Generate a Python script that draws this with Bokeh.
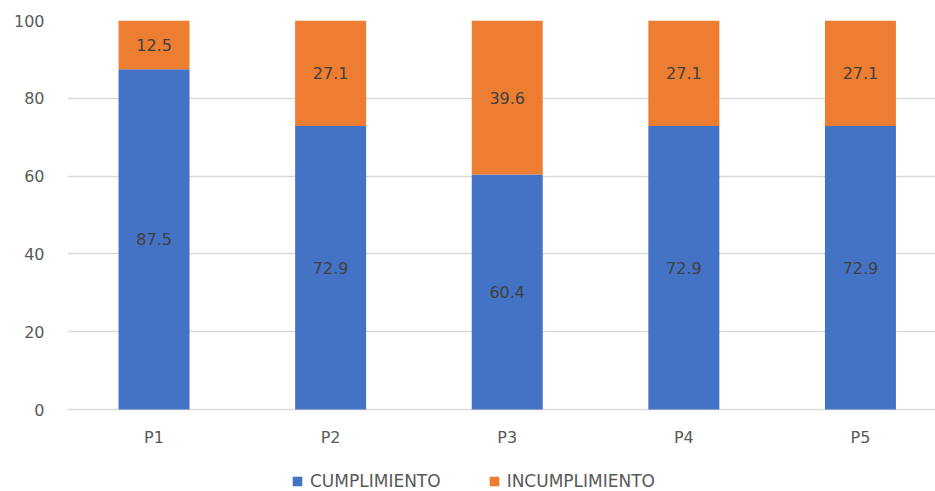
from bokeh.plotting import figure
from bokeh.models import (ColumnDataSource, Legend, LegendItem, FixedTicker,
                          Range1d, LabelSet)
from bokeh.core.properties import value
from bokeh.embed import file_html
from bokeh.resources import INLINE

# Compliance per item (percent)
categories = ["P1", "P2", "P3", "P4", "P5"]
cumplimiento = [87.5, 72.9, 60.4, 72.9, 72.9]
incumplimiento = [12.5, 27.1, 39.6, 27.1, 27.1]
y_ticks = [0, 20, 40, 60, 80, 100]

BLUE = "#4472C4"
ORANGE = "#ED7D31"
FONT = "DejaVu Sans"

W, H = 935, 491
TOP, LEFT = 20, 67
AXIS_ROOM = 82          # pixels under the zero line for category names + legend
CAT_GAP = 28            # zero line -> category name centre, pixels

# The plotting frame runs to the bottom edge so the legend can sit inside it;
# the value range is extended below zero to keep 0..100 in the upper part.
px_per_unit = (H - TOP - AXIS_ROOM) / 100.0
y_start = -AXIS_ROOM / px_per_unit

xs = [i + 0.5 for i in range(len(categories))]
source = ColumnDataSource(dict(
    x=xs,
    cat=categories,
    cat_y=[-CAT_GAP / px_per_unit] * len(categories),
    cumplimiento=cumplimiento,
    incumplimiento=incumplimiento,
    c_mid=[c / 2 for c in cumplimiento],
    i_mid=[c + i / 2 for c, i in zip(cumplimiento, incumplimiento)],
    c_txt=[f"{c:.1f}" for c in cumplimiento],
    i_txt=[f"{i:.1f}" for i in incumplimiento],
))

p = figure(width=W, height=H, output_backend="svg", toolbar_location=None,
           x_range=Range1d(0.01, 4.925), y_range=Range1d(y_start, 100),
           x_axis_location=None,
           min_border_left=LEFT, min_border_right=0, min_border_top=TOP,
           min_border_bottom=0)
p.outline_line_color = None
p.background_fill_color = "white"
p.border_fill_color = "white"

renderers = p.vbar_stack(["cumplimiento", "incumplimiento"], x="x", width=0.402,
                         color=[BLUE, ORANGE], line_color=None, source=source)

# Value labels centred in each segment
for ycol, tcol in (("c_mid", "c_txt"), ("i_mid", "i_txt")):
    p.add_layout(LabelSet(x="x", y=ycol, text=tcol, source=source,
                          text_align="center", text_baseline="middle",
                          text_font=value(FONT), text_font_size="16px",
                          text_color="#404040"))

# Category names under the zero line
p.add_layout(LabelSet(x="x", y="cat_y", text="cat", source=source,
                      text_align="center", text_baseline="middle",
                      text_font=value(FONT), text_font_size="16px",
                      text_color="#595959"))

# Value axis
p.yaxis.ticker = FixedTicker(ticks=y_ticks)
p.yaxis.axis_line_color = None
p.yaxis.major_tick_line_color = None
p.yaxis.minor_tick_line_color = None
p.yaxis.major_label_text_font = FONT
p.yaxis.major_label_text_font_size = "16px"
p.yaxis.major_label_text_color = "#595959"
p.yaxis.major_label_standoff = 17

p.xgrid.grid_line_color = None
p.ygrid.grid_line_color = "#D9D9D9"
p.ygrid.grid_line_width = 1.5

legend = Legend(items=[LegendItem(label="CUMPLIMIENTO", renderers=[renderers[0]]),
                       LegendItem(label="INCUMPLIMIENTO", renderers=[renderers[1]])],
                orientation="horizontal", location=(224, 0),
                padding=0, margin=0, spacing=47, label_standoff=7,
                glyph_width=12, glyph_height=12,
                border_line_color=None, background_fill_alpha=0,
                label_text_font=FONT, label_text_font_size="17px",
                label_text_color="#595959")
p.add_layout(legend, "center")

open("out.html", "w").write(file_html(p, INLINE))
